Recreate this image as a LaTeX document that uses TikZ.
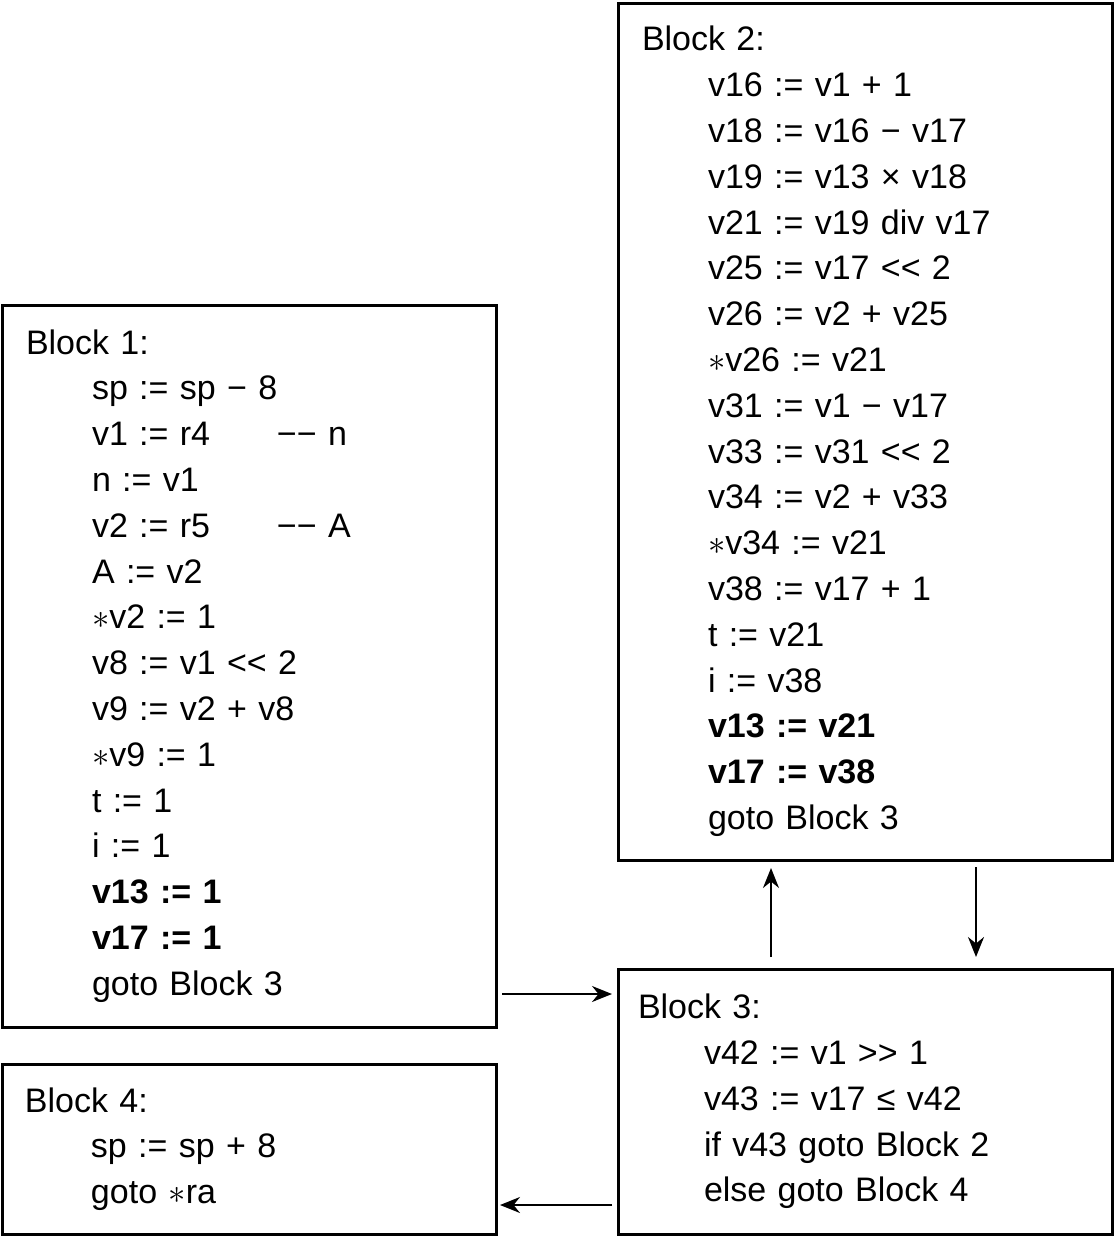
\documentclass[tikz,border=0pt]{standalone}
\usepackage{fontspec}
\setmainfont{Liberation Sans}
\usetikzlibrary{arrows.meta}
\newcommand{\codeind}{\hspace*{33pt}}
\newcommand{\cmt}[2]{\makebox[92.5pt][l]{#1}#2}
\begin{document}
\begin{tikzpicture}[x=0.5pt,y=-0.5pt,
    block/.style={draw,line width=1.5pt,outer sep=0pt,anchor=north west,minimum width=247pt,
      inner xsep=12pt,text width=223pt,align=left,
      font=\fontsize{17pt}{22.9pt}\selectfont},
    flow/.style={line width=1pt,-{Stealth[length=10pt,width=8pt]}}]
      \useasboundingbox (0,0) rectangle (1116,1237);
      \node[block,minimum height=361pt] (b1) at (2,305) {Block 1:\\
        \codeind sp := sp − 8\\
        \codeind \cmt{v1 := r4}{−− n}\\
        \codeind n := v1\\
        \codeind \cmt{v2 := r5}{−− A}\\
        \codeind A := v2\\
        \codeind $\ast$v2 := 1\\
        \codeind v8 := v1 <{}< 2\\
        \codeind v9 := v2 + v8\\
        \codeind $\ast$v9 := 1\\
        \codeind t := 1\\
        \codeind i := 1\\
        \codeind \textbf{v13 := 1}\\
        \codeind \textbf{v17 := 1}\\
        \codeind goto Block 3};
      \node[block,minimum height=428.5pt] (b2) at (618,3) {Block 2:\\
        \codeind v16 := v1 + 1\\
        \codeind v18 := v16 − v17\\
        \codeind v19 := v13 × v18\\
        \codeind v21 := v19 div v17\\
        \codeind v25 := v17 <{}< 2\\
        \codeind v26 := v2 + v25\\
        \codeind $\ast$v26 := v21\\
        \codeind v31 := v1 − v17\\
        \codeind v33 := v31 <{}< 2\\
        \codeind v34 := v2 + v33\\
        \codeind $\ast$v34 := v21\\
        \codeind v38 := v17 + 1\\
        \codeind t := v21\\
        \codeind i := v38\\
        \codeind \textbf{v13 := v21}\\
        \codeind \textbf{v17 := v38}\\
        \codeind goto Block 3};
      \node[block,minimum height=132.5pt,inner xsep=10pt,text width=227pt] (b3) at (618,969) {Block 3:\\
        \codeind v42 := v1 >{}> 1\\
        \codeind v43 := v17 ≤ v42\\
        \codeind if v43 goto Block 2\\
        \codeind else goto Block 4};
      \node[block,minimum height=85pt,inner xsep=11.5pt,text width=224pt] (b4) at (2,1064) {Block 4:\\
        \codeind sp := sp + 8\\
        \codeind goto $\ast$ra};
      % edges
      \draw[flow] ([shift={(3pt,16.5pt)}]b1.south east) -- ([shift={(-3pt,-12.5pt)}]b3.north west);
      \draw[flow] ([shift={(-3pt,14.5pt)}]b3.south west) -- ([shift={(2pt,14.5pt)}]b4.south east);
      \draw[flow] ([shift={(76.5pt,6pt)}]b3.north west) -- ([shift={(76.5pt,-4pt)}]b2.south west);
      \draw[flow] ([shift={(179pt,-3.5pt)}]b2.south west) -- ([shift={(179pt,6pt)}]b3.north west);
    \end{tikzpicture}
\end{document}
